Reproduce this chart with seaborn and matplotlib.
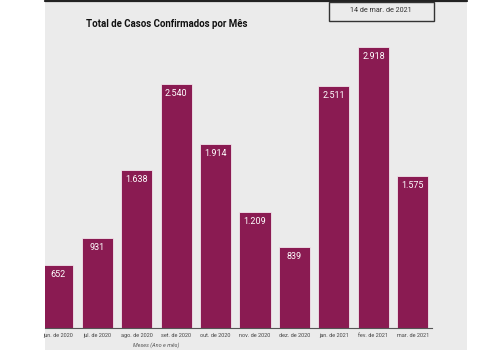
import matplotlib
matplotlib.use("Agg")
import matplotlib.pyplot as plt
import seaborn as sns
import pandas as pd
from matplotlib.patches import Rectangle
from matplotlib.lines import Line2D

months = ["jun. de 2020", "jul. de 2020", "ago. de 2020", "set. de 2020", "out. de 2020",
          "nov. de 2020", "dez. de 2020", "jan. de 2021", "fev. de 2021", "mar. de 2021"]
cases = [652, 931, 1638, 2540, 1914, 1209, 839, 2511, 2918, 1575]
title = "Total de Casos Confirmados por Mês"
date_text = "14 de mar. de 2021"
xlabel = "Meses (Ano e mês)"

df = pd.DataFrame({"mes": months, "casos": cases})

sns.set_theme(style="white")
plt.rcParams['font.family'] = ['Roboto', 'DejaVu Sans']

W, H = 500, 350
fig = plt.figure(figsize=(5, 3.5), dpi=100)
fig.patch.set_facecolor("white")

def fx(px):
    return px / W

def fy(py):
    return 1 - py / H

# gray panel
fig.patches.append(Rectangle((fx(45), 0), fx(467) - fx(45), fy(2), transform=fig.transFigure,
                             facecolor="#EBEBEB", edgecolor="none", zorder=-5))
# top black line
fig.lines.append(Line2D([fx(45), fx(467)], [fy(0.8), fy(0.8)], transform=fig.transFigure,
                        color="#222222", lw=1.6, zorder=5))

# axes: left px 45, right px 432, bottom px 328, top px 20
ax = fig.add_axes([fx(45), fy(328), fx(432) - fx(45), fy(20) - fy(328)])
ax.set_zorder(1)
ax.set_facecolor("none")
ax.patch.set_alpha(0)
sns.barplot(data=df, x="mes", y="casos", color="#8A1B52", saturation=1, width=0.786,
            edgecolor="#F2E6EC", linewidth=0.6, ax=ax)
spacing = 39.46
x0 = (45 - 57.7) / spacing
x1 = (432 - 57.7) / spacing
ax.set_xlim(x0, x1)
ax.set_ylim(0, 308 / 0.0962)
for s in ["top", "right", "left"]:
    ax.spines[s].set_visible(False)
ax.spines["bottom"].set_color("#555555")
ax.spines["bottom"].set_linewidth(0.8)
ax.set_yticks([])
ax.set_ylabel("")
ax.set_xlabel("")
ax.tick_params(axis="x", length=0, pad=3.5, labelsize=4.0, labelcolor="#444444")

for i, v in enumerate(cases):
    lab = f"{v:,}".replace(",", ".")
    ax.annotate(lab, (i, v), xytext=(0, -3.5), textcoords="offset points", ha="center", va="top",
                color="white", fontsize=6.5)

fig.text(fx(86), fy(24), title, fontsize=6.9, fontweight="bold", color="#111111",
         ha="left", va="center", zorder=5)
# date box
fig.patches.append(Rectangle((fx(328.5), fy(21)), fx(434) - fx(328.5), fy(2) - fy(21),
                             transform=fig.transFigure, facecolor="none",
                             edgecolor="#333333", lw=1.0, zorder=5))
fig.text(fx(381), fy(11), date_text, fontsize=5.2, color="#333333", ha="center", va="center", zorder=5)
fig.text(fx(156), fy(345), xlabel, fontsize=4.0, style="italic", color="#555555",
         ha="center", va="center", zorder=5)

fig.savefig("out.png", dpi=100)
